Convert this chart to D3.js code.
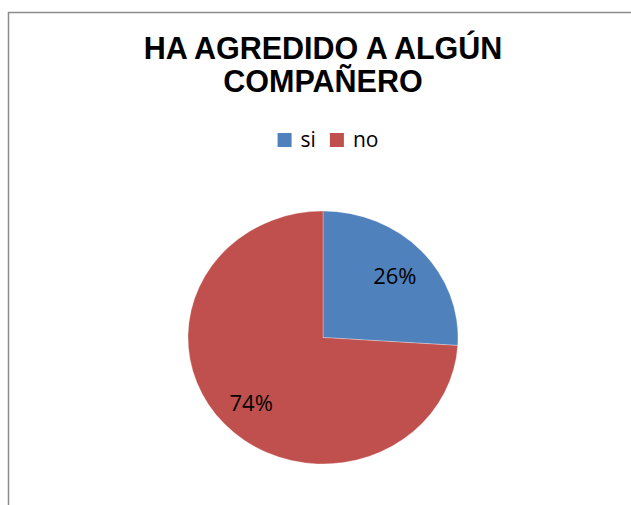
<!DOCTYPE html>
<html>
<head>
<meta charset="utf-8">
<script src="https://cdn.jsdelivr.net/npm/d3@7"></script>
<style>
  body { margin: 0; background: #fff; }
  svg { display: block; }
</style>
</head>
<body>
<svg id="chart"></svg>
<script>
const titleLines = ['HA AGREDIDO A ALGÚN', 'COMPAÑERO'];
const categories = ['si', 'no'];
const values = [26, 74];
const colorRange = ['#4F81BD', '#C0504D'];

const width = 631;
const height = 505;
const center = { x: 323, y: 337.5 };
const radius = 135;
const squash = 0.937; // pie is drawn slightly flattened

const svg = d3.select('#chart')
  .attr('width', width)
  .attr('height', height);

// chart frame, runs off the right and bottom of the picture
svg.append('rect')
  .attr('x', 8.5)
  .attr('y', 12.5)
  .attr('width', width + 20)
  .attr('height', height + 20)
  .attr('fill', '#fff')
  .attr('stroke', '#8c8c8c')
  .attr('stroke-width', 1.5);

const colors = d3.scaleOrdinal()
  .domain(categories)
  .range(colorRange);

// title
svg.append('text')
  .attr('text-anchor', 'middle')
  .attr('font-family', 'Liberation Sans, Arial, sans-serif')
  .attr('font-weight', 'bold')
  .attr('font-size', 30.5)
  .attr('fill', '#000')
  .selectAll('tspan')
  .data(titleLines)
  .enter()
    .append('tspan')
      .attr('x', center.x)
      .attr('y', (d, i) => 58.5 + i * 33.5)
      .text((d) => d);

// legend
const legend = svg.append('g').attr('class', 'legend');
const legendItems = legend.selectAll('g')
  .data(categories)
  .enter()
    .append('g');

legendItems.append('rect')
  .attr('width', 14)
  .attr('height', 14)
  .attr('y', 133)
  .attr('fill', (d) => colors(d));

legendItems.append('text')
  .attr('x', 23)
  .attr('y', 147)
  .attr('font-family', 'Open Sans, sans-serif')
  .attr('font-size', 21)
  .attr('fill', '#000')
  .text((d) => d);

let offset = 0;
legendItems.each(function () {
  const g = d3.select(this);
  g.attr('transform', `translate(${offset},0)`);
  offset += 23 + g.select('text').node().getComputedTextLength() + 14;
});
const legendWidth = offset - 14;
legend.attr('transform', `translate(${328 - legendWidth / 2},0)`);

// pie
const pie = d3.pie().sort(null).value((d) => d);
const arcs = pie(values);

const arc = d3.arc().innerRadius(0).outerRadius(radius);
const labelArc = d3.arc().innerRadius(radius * 0.73).outerRadius(radius * 0.73);

svg.append('g')
  .attr('transform', `translate(${center.x},${center.y}) scale(1,${squash})`)
  .selectAll('path')
  .data(arcs)
  .enter()
    .append('path')
      .attr('d', arc)
      .attr('fill', (d, i) => colors(categories[i]))
      .attr('stroke', '#fff')
      .attr('stroke-opacity', 0.5)
      .attr('stroke-width', 0.6);

const total = d3.sum(values);
svg.append('g')
  .selectAll('text')
  .data(arcs)
  .enter()
    .append('text')
      .attr('x', (d) => center.x + labelArc.centroid(d)[0])
      .attr('y', (d) => center.y + labelArc.centroid(d)[1] * squash)
      .attr('dy', '0.45em')
      .attr('text-anchor', 'middle')
      .attr('font-family', 'Open Sans, sans-serif')
      .attr('font-size', 22)
      .attr('fill', '#000')
      .text((d) => Math.round(d.value / total * 100) + '%');
</script>
</body>
</html>
